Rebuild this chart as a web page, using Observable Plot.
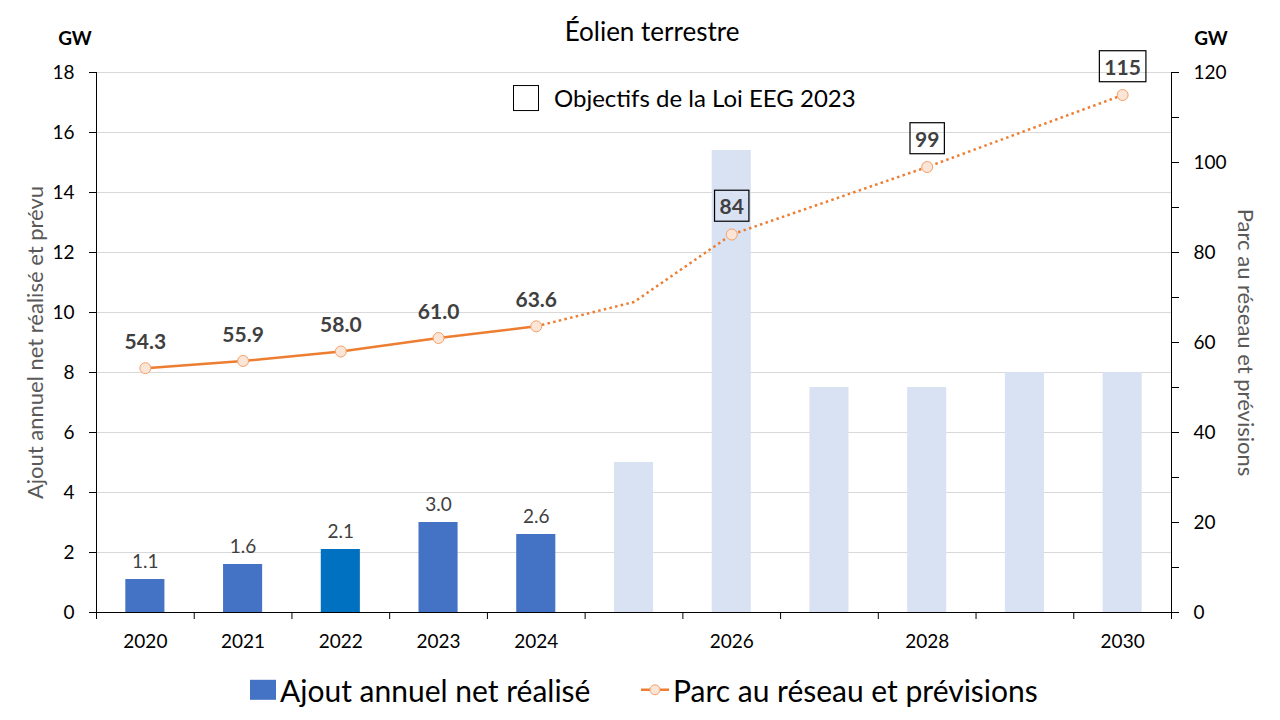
<!DOCTYPE html>
<html><head><meta charset="utf-8">
<script src="https://cdn.jsdelivr.net/npm/d3@7"></script>
<script src="https://cdn.jsdelivr.net/npm/@observablehq/plot@0.6"></script>
<style>
body{margin:0;background:#fff;font-family:Lato,"Open Sans",sans-serif;}
#wrap{position:relative;width:1280px;height:720px;overflow:hidden;background:#fff}
#wrap > svg{position:absolute;left:0;top:0}
.abs{position:absolute;white-space:nowrap;line-height:1;color:#000}
</style></head><body><div id="wrap"></div>
<script>
// ---- data ----
const years = [2020, 2021, 2022, 2023, 2024, 2025, 2026, 2027, 2028, 2029, 2030];
const annualAdded = [1.1, 1.6, 2.1, 3.0, 2.6, 5.0, 15.4, 7.5, 7.5, 8.0, 8.0];
const capacity = [54.3, 55.9, 58.0, 61.0, 63.6, 69, 84, 91.5, 99, 107, 115];
const lastRealisedYear = 2024;
const highlightYear = 2022;
const markerYears = [2020, 2021, 2022, 2023, 2024, 2026, 2028, 2030];
const targetYears = [2026, 2028, 2030];
const xTickLabels = [2020, 2021, 2022, 2023, 2024, 2026, 2028, 2030];
const leftTicks = [0, 2, 4, 6, 8, 10, 12, 14, 16, 18];
const rightTicks = [0, 20, 40, 60, 80, 100, 120];
const rightMinorTicks = [0, 10, 20, 30, 40, 50, 60, 70, 80, 90, 100, 110, 120];
const title = "Éolien terrestre";
const unit = "GW";
const leftTitle = "Ajout annuel net réalisé et prévu";
const rightTitle = "Parc au réseau et prévisions";
const barLegend = "Ajout annuel net réalisé";
const lineLegend = "Parc au réseau et prévisions";
const targetLegend = "Objectifs de la Loi EEG 2023";

// ---- derived ----
const k = 18 / 120; // right axis -> left axis
const bars = years.map((year, i) => ({year, value: annualAdded[i]}));
const cap = years.map((year, i) => ({year, raw: capacity[i], v: capacity[i] * k}));
const solid = cap.filter(d => d.year <= lastRealisedYear);
const dotted = cap.filter(d => d.year >= lastRealisedYear);
const markers = cap.filter(d => markerYears.includes(d.year));
const plainLabels = markers.filter(d => !targetYears.includes(d.year));
const targetLabels = markers.filter(d => targetYears.includes(d.year));
const xBounds = [...years.map(y => y - 0.5), years[years.length - 1] + 0.5];
const barColor = y => y > lastRealisedYear ? "#D9E2F3" : (y === highlightYear ? "#0070C0" : "#4472C4");
const ORANGE = "#ED7D31";
const TARGET_FILL = "#404041";

const plot = Plot.plot({
  width: 1280, height: 720,
  marginLeft: 96, marginRight: 109, marginTop: 72, marginBottom: 108,
  style: {fontFamily: "Lato, sans-serif", background: "transparent"},
  x: {type: "linear", domain: [xBounds[0], xBounds[xBounds.length - 1]]},
  y: {domain: [0, 18]},
  marks: [
    Plot.gridY(leftTicks, {stroke: "#d9d9d9", strokeOpacity: 1}),
    Plot.rectY(bars, {x1: d => d.year - 0.2, x2: d => d.year + 0.2, y: "value", fill: d => barColor(d.year)}),
    Plot.text(bars.filter(d => d.year <= lastRealisedYear), {x: "year", y: "value", text: d => d.value.toFixed(1), dy: -18, fontSize: 19, fill: "#404040"}),
    Plot.line(solid, {x: "year", y: "v", stroke: ORANGE, strokeWidth: 2.5}),
    Plot.line(dotted, {x: "year", y: "v", stroke: ORANGE, strokeWidth: 2.5, strokeDasharray: "2.5 3.3", strokeLinecap: "butt"}),
    Plot.dot(markers, {x: "year", y: "v", r: 5.5, fill: "#FBE5D6", stroke: "#F4A06A", strokeWidth: 1}),
    Plot.text(plainLabels, {x: "year", y: "v", text: d => d.raw.toFixed(1), dy: -26, fontSize: 21, fontWeight: "bold", fill: "#404040"}),
    Plot.text(targetLabels, {x: "year", y: "v", text: d => String(d.raw), dy: -27, fontSize: 21, fontWeight: "bold", fill: TARGET_FILL}),
    // axes
    Plot.axisY(leftTicks, {anchor: "left", tickSize: 7, tickPadding: 15, fontSize: 19, color: "#000", label: null}),
    Plot.axisY(rightMinorTicks.map(v => v * k), {anchor: "right", tickSize: 7, tickFormat: () => "", color: "#000", label: null}),
    Plot.axisY(rightTicks.map(v => v * k), {anchor: "right", tickSize: 7, tickPadding: 15, fontSize: 19, color: "#000", tickFormat: d => Math.round(d / k), label: null}),
    Plot.axisX(xBounds, {tickSize: 7, tickFormat: () => "", color: "#000", label: null}),
    Plot.axisX(xTickLabels, {tickSize: 0, tickPadding: 22, fontSize: 19, color: "#000", tickFormat: d => String(d), label: null}),
    Plot.ruleY([0], {stroke: "#000"}),
    Plot.ruleX([xBounds[0], xBounds[xBounds.length - 1]], {stroke: "#000"}),
    Plot.text([leftTitle], {frameAnchor: "left", textAnchor: "middle", rotate: -90, dx: -61, fontSize: 22, fill: "#595959"}),
    Plot.text([rightTitle], {frameAnchor: "right", textAnchor: "middle", rotate: 90, dx: 74, fontSize: 22, fill: "#595959"})
  ]
});
const wrap = document.getElementById("wrap");
wrap.appendChild(plot);

// boxes around target labels
const svgNS = "http://www.w3.org/2000/svg";
plot.querySelectorAll("text").forEach(t => {
  const f = t.getAttribute("fill") || (t.parentNode.getAttribute && t.parentNode.getAttribute("fill"));
  if (!f || f.toLowerCase() !== TARGET_FILL) return;
  const b = t.getBBox();
  const r = document.createElementNS(svgNS, "rect");
  r.setAttribute("x", b.x - 5); r.setAttribute("y", b.y - 3);
  r.setAttribute("width", b.width + 10); r.setAttribute("height", b.height + 6);
  r.setAttribute("fill", "none"); r.setAttribute("stroke", "#000"); r.setAttribute("stroke-width", 1.2);
  const tr = t.getAttribute("transform"); if (tr) r.setAttribute("transform", tr);
  t.parentNode.insertBefore(r, t);
});

// HTML text: title, units, legends
function addDiv(html, css) { const d = document.createElement("div"); d.className = "abs"; d.innerHTML = html; Object.assign(d.style, css); wrap.appendChild(d); return d; }
addDiv(title, {left: "652px", top: "31px", transform: "translate(-50%,-50%)", fontSize: "26px"});
addDiv(unit, {left: "75px", top: "37px", transform: "translate(-50%,-50%)", fontSize: "19px", fontWeight: "bold"});
addDiv(unit, {left: "1211px", top: "37px", transform: "translate(-50%,-50%)", fontSize: "19px", fontWeight: "bold"});
addDiv(`<span style="display:inline-block;width:26px;height:26px;border:1.3px solid #000;box-sizing:border-box;vertical-align:middle;margin-right:15px"></span><span style="vertical-align:middle">${targetLegend}</span>`,
  {left: "513px", top: "97px", transform: "translateY(-50%)", fontSize: "24px"});
addDiv(`<span style="display:inline-block;width:26px;height:20px;background:#4472C4;vertical-align:middle;margin-right:4px"></span><span style="vertical-align:middle">${barLegend}</span>`,
  {left: "250px", top: "688px", transform: "translateY(-50%)", fontSize: "30px"});
addDiv(`<svg width="28" height="14" style="vertical-align:middle;margin-right:4px"><line x1="0" y1="7" x2="28" y2="7" stroke="${ORANGE}" stroke-width="2.5"/><circle cx="14" cy="7" r="5" fill="#FBE5D6" stroke="#F4A06A"/></svg><span style="vertical-align:middle">${lineLegend}</span>`,
  {left: "641px", top: "688px", transform: "translateY(-50%)", fontSize: "30px"});
</script></body></html>
